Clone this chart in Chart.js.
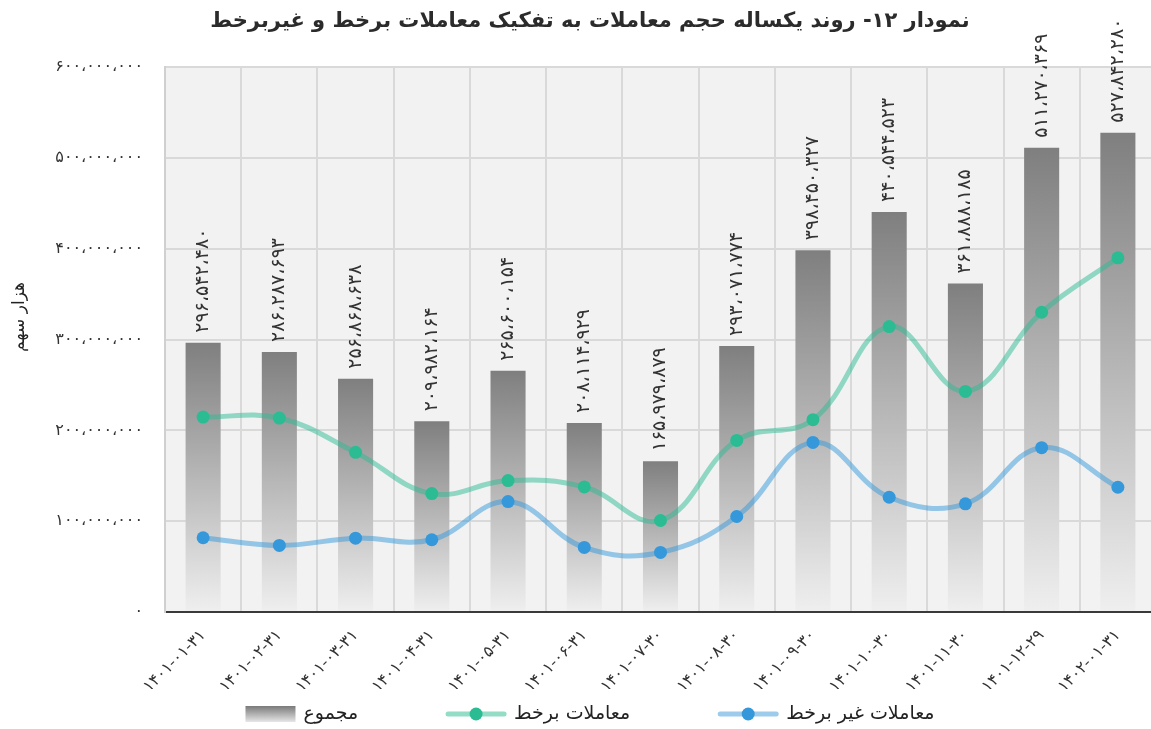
<!DOCTYPE html>
<html lang="fa">
<head>
<meta charset="utf-8">
<script src="https://cdn.jsdelivr.net/npm/chart.js@4.4.0/dist/chart.umd.min.js"></script>
<style>
  html, body { margin: 0; padding: 0; background: #fff; overflow: hidden; }
  #wrap { width: 1180px; height: 729px; }
  canvas { direction: rtl; }
</style>
</head>
<body>
<div id="wrap"><canvas id="volChart"></canvas></div>
<script>
// تاریخ ها
const dates = ['1401-01-31', '1401-02-31', '1401-03-31', '1401-04-31', '1401-05-31', '1401-06-31',
  '1401-07-30', '1401-08-30', '1401-09-30', '1401-10-30', '1401-11-30', '1401-12-29', '1402-01-31'];

// مجموع (هزار سهم)
const totals = [296542480, 286287693, 256868638, 209982164, 265600154, 208114929, 165979879,
  293071774, 398450327, 440544523, 361888185, 511270369, 527842280];

// معاملات برخط
const online = [214700000, 213600000, 175800000, 130400000, 144700000, 137800000, 100800000,
  189000000, 211800000, 314300000, 242900000, 330100000, 390100000];

// معاملات غیر برخط
const offline = [81800000, 73300000, 81300000, 79600000, 121600000, 71100000, 65600000,
  105200000, 186800000, 126400000, 119100000, 181000000, 137400000];

const yMax = 600000000;
const yStep = 100000000;
const yTitle = 'هزار سهم';

const faDigits = '۰۱۲۳۴۵۶۷۸۹';
function toFa(s) {
  return String(s).replace(/\d/g, d => faDigits[d]);
}
function fmt(n) {
  return toFa(Math.round(n).toString().replace(/\B(?=(\d{3})+(?!\d))/g, '،'));
}

function barGradient(ctx) {
  const chart = ctx.chart;
  if (!chart.chartArea || ctx.type !== 'data') return '#999';
  const y = chart.scales.y;
  const top = y.getPixelForValue(ctx.raw);
  const bottom = y.getPixelForValue(0);
  const g = chart.ctx.createLinearGradient(0, top, 0, bottom);
  g.addColorStop(0, '#7f7f7f');
  g.addColorStop(1, '#efefef');
  return g;
}

// پس زمینه ناحیه نمودار + عنوان محور
const plotBg = {
  id: 'plotBg',
  beforeDraw(chart) {
    const a = chart.chartArea;
    const c = chart.ctx;
    c.save();
    c.fillStyle = '#f2f2f2';
    c.fillRect(a.left, a.top, a.right - a.left, a.bottom - a.top);
    c.font = '17px "DejaVu Sans"';
    c.fillStyle = '#222';
    c.textAlign = 'center';
    c.textBaseline = 'middle';
    c.translate(20, 317);
    c.rotate(-Math.PI / 2);
    c.fillText(yTitle, 0, 0);
    c.restore();
  }
};

// برچسب مقادیر روی ستون ها
const barLabels = {
  id: 'barLabels',
  afterDatasetsDraw(chart) {
    const meta = chart.getDatasetMeta(0);
    const c = chart.ctx;
    c.save();
    c.font = '19px "DejaVu Sans"';
    c.fillStyle = '#333';
    c.textAlign = 'left';
    c.textBaseline = 'middle';
    meta.data.forEach((bar, i) => {
      c.save();
      c.translate(bar.x, bar.y - 10);
      c.rotate(-Math.PI / 2);
      c.fillText(fmt(totals[i]), 0, 0);
      c.restore();
    });
    c.restore();
  }
};

// راهنما
const bottomLegend = {
  id: 'bottomLegend',
  afterDraw(chart) {
    const c = chart.ctx;
    const sets = chart.data.datasets;
    const swW = [50, 60, 60];
    const gap = 8, itemGap = 88;
    c.save();
    c.font = '19px "DejaVu Sans"';
    const tw = sets.map(ds => c.measureText(ds.label).width);
    let total = itemGap * (sets.length - 1);
    sets.forEach((ds, i) => { total += swW[i] + gap + tw[i]; });
    let x = chart.width / 2 - total / 2;
    const cy = 714;
    sets.forEach((ds, i) => {
      if (ds.type === 'bar') {
        const g = c.createLinearGradient(0, cy - 8, 0, cy + 8);
        g.addColorStop(0, '#7a7a7a');
        g.addColorStop(1, '#e6e6e6');
        c.fillStyle = g;
        c.fillRect(x, cy - 8, swW[i], 16);
      } else {
        c.strokeStyle = ds.legendLine;
        c.lineWidth = 5;
        c.lineCap = 'round';
        c.beginPath();
        c.moveTo(x + 2, cy);
        c.lineTo(x + swW[i] - 2, cy);
        c.stroke();
        c.fillStyle = ds.pointBackgroundColor;
        c.beginPath();
        c.arc(x + swW[i] / 2, cy, 6.5, 0, Math.PI * 2);
        c.fill();
      }
      x += swW[i] + gap;
      c.fillStyle = '#222';
      c.textAlign = 'left';
      c.textBaseline = 'middle';
      c.fillText(ds.label, x, cy);
      x += tw[i] + itemGap;
    });
    c.restore();
  }
};

const ctx = document.getElementById('volChart').getContext('2d');
new Chart(ctx, {
  type: 'bar',
  data: {
    labels: dates.map(toFa),
    datasets: [{
      type: 'bar',
      label: 'مجموع',
      data: totals,
      backgroundColor: barGradient,
      barPercentage: 0.46,
      categoryPercentage: 1.0,
      order: 2
    }, {
      type: 'line',
      label: 'معاملات برخط',
      data: online,
      borderColor: 'rgba(43,188,148,0.5)',
      legendLine: '#93dcc6',
      borderWidth: 5,
      tension: 0.4,
      pointRadius: 6.5,
      pointBorderWidth: 0,
      pointBackgroundColor: '#2bbc94',
      pointBorderColor: '#2bbc94',
      order: 1
    }, {
      type: 'line',
      label: 'معاملات غیر برخط',
      data: offline,
      borderColor: 'rgba(52,152,219,0.5)',
      legendLine: '#9ccbeb',
      borderWidth: 5,
      tension: 0.4,
      pointRadius: 6.5,
      pointBorderWidth: 0,
      pointBackgroundColor: '#3498db',
      pointBorderColor: '#3498db',
      order: 0
    }]
  },
  options: {
    responsive: true,
    maintainAspectRatio: false,
    animation: false,
    layout: { padding: { left: 24, right: 24, top: 0, bottom: 40 } },
    plugins: {
      legend: { display: false },
      tooltip: { enabled: false },
      title: {
        display: true,
        text: 'نمودار ۱۲- روند یکساله حجم معاملات به تفکیک معاملات برخط و غیربرخط',
        color: '#2b2b2b',
        font: { family: 'DejaVu Sans', size: 21, weight: 'bold' },
        padding: { top: 9, bottom: 33 }
      }
    },
    scales: {
      x: {
        grid: { color: '#d9d9d9', lineWidth: 2, drawTicks: false },
        border: { color: '#3a3a3a', width: 2 },
        ticks: {
          color: '#333',
          font: { family: 'DejaVu Sans', size: 16 },
          minRotation: 45,
          maxRotation: 45,
          padding: 14
        },
        afterFit(scale) { scale.height = 77; }
      },
      y: {
        min: 0,
        max: yMax,
        grid: { color: '#d9d9d9', lineWidth: 2, drawTicks: false },
        border: { color: '#d0d0d0', width: 2 },
        ticks: {
          stepSize: yStep,
          color: '#333',
          padding: 22,
          font: { family: 'DejaVu Sans', size: 16 },
          callback: v => fmt(v)
        },
        afterFit(scale) { scale.width = 141; }
      }
    }
  },
  plugins: [plotBg, barLabels, bottomLegend]
});
</script>
</body>
</html>
